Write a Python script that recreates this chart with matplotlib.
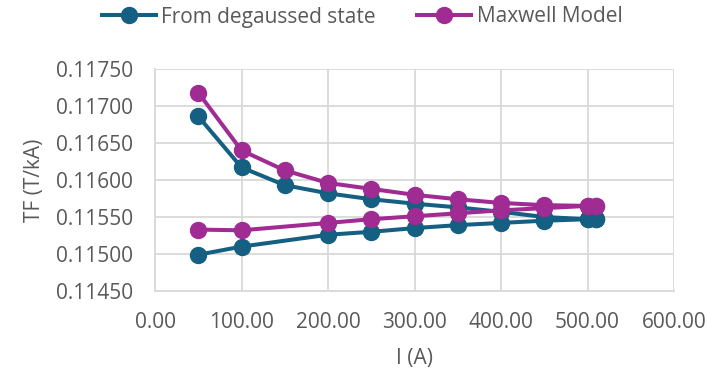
import matplotlib
matplotlib.use("Agg")
import matplotlib.pyplot as plt

# Data
current_deg = [50, 100, 200, 250, 300, 350, 400, 450, 500, 510,
               510, 500, 450, 400, 350, 300, 250, 200, 150, 100, 50]
tf_deg = [0.11499, 0.11510, 0.11526, 0.11530, 0.11535, 0.11539, 0.11542, 0.11545, 0.11547, 0.11547,
          0.11547, 0.11547, 0.11550, 0.11557, 0.11563, 0.11568, 0.11574, 0.11582, 0.11593, 0.11617, 0.11686]

current_max = [50, 100, 200, 250, 300, 350, 400, 450, 500, 510,
               510, 500, 450, 400, 350, 300, 250, 200, 150, 100, 50]
tf_max = [0.11533, 0.11532, 0.11542, 0.11547, 0.11551, 0.11555, 0.11559, 0.11562, 0.11565, 0.11565,
          0.11565, 0.11565, 0.11566, 0.11569, 0.11574, 0.11580, 0.11588, 0.11596, 0.11613, 0.11640, 0.11718]

series_names = ["From degaussed state", "Maxwell Model"]
x_ticks = [0, 100, 200, 300, 400, 500, 600]
y_ticks = [0.1145, 0.1150, 0.1155, 0.1160, 0.1165, 0.1170, 0.1175]

plt.rcParams['font.family'] = ['Open Sans', 'DejaVu Sans']
text_color = '#595959'
grid_color = '#d9d9d9'

fig = plt.figure(figsize=(7.07, 3.74), dpi=100)
ax = fig.add_axes([155/707, 1 - 291/374, (674-155)/707, (291-69)/374])

ax.plot(current_deg, tf_deg, color='#156082', lw=2.9, marker='o', ms=11.5,
        label=series_names[0], zorder=3, clip_on=False)
ax.plot(current_max, tf_max, color='#A02B93', lw=2.9, marker='o', ms=11.5,
        label=series_names[1], zorder=3, clip_on=False)

ax.set_xlim(0, 600)
ax.set_ylim(0.1145, 0.1175)
ax.set_xticks(x_ticks)
ax.set_yticks(y_ticks)
ax.set_xticklabels([f"{v:.2f}" for v in x_ticks])
ax.set_yticklabels([f"{v:.5f}" for v in y_ticks])
ax.tick_params(axis='both', length=0, labelsize=15, colors=text_color)
ax.tick_params(axis='x', pad=15)
ax.tick_params(axis='y', pad=16)
ax.grid(True, color=grid_color, lw=1.3)
ax.set_axisbelow(True)
for s in ['top', 'right']:
    ax.spines[s].set_visible(False)
for s in ['left', 'bottom']:
    ax.spines[s].set_color(grid_color)
    ax.spines[s].set_linewidth(1.3)

ax.set_xlabel("I (A)", fontsize=15, color=text_color, labelpad=11)
ax.set_ylabel("TF (T/kA)", fontsize=15, color=text_color, labelpad=8)

leg = fig.legend(loc='center', bbox_to_anchor=(362/707, 1 - 17/374), ncol=2, frameon=False,
                 fontsize=15, handlelength=2.6, handletextpad=0.25, columnspacing=2.0,
                 labelcolor=text_color)

fig.savefig("out.png", dpi=100)
